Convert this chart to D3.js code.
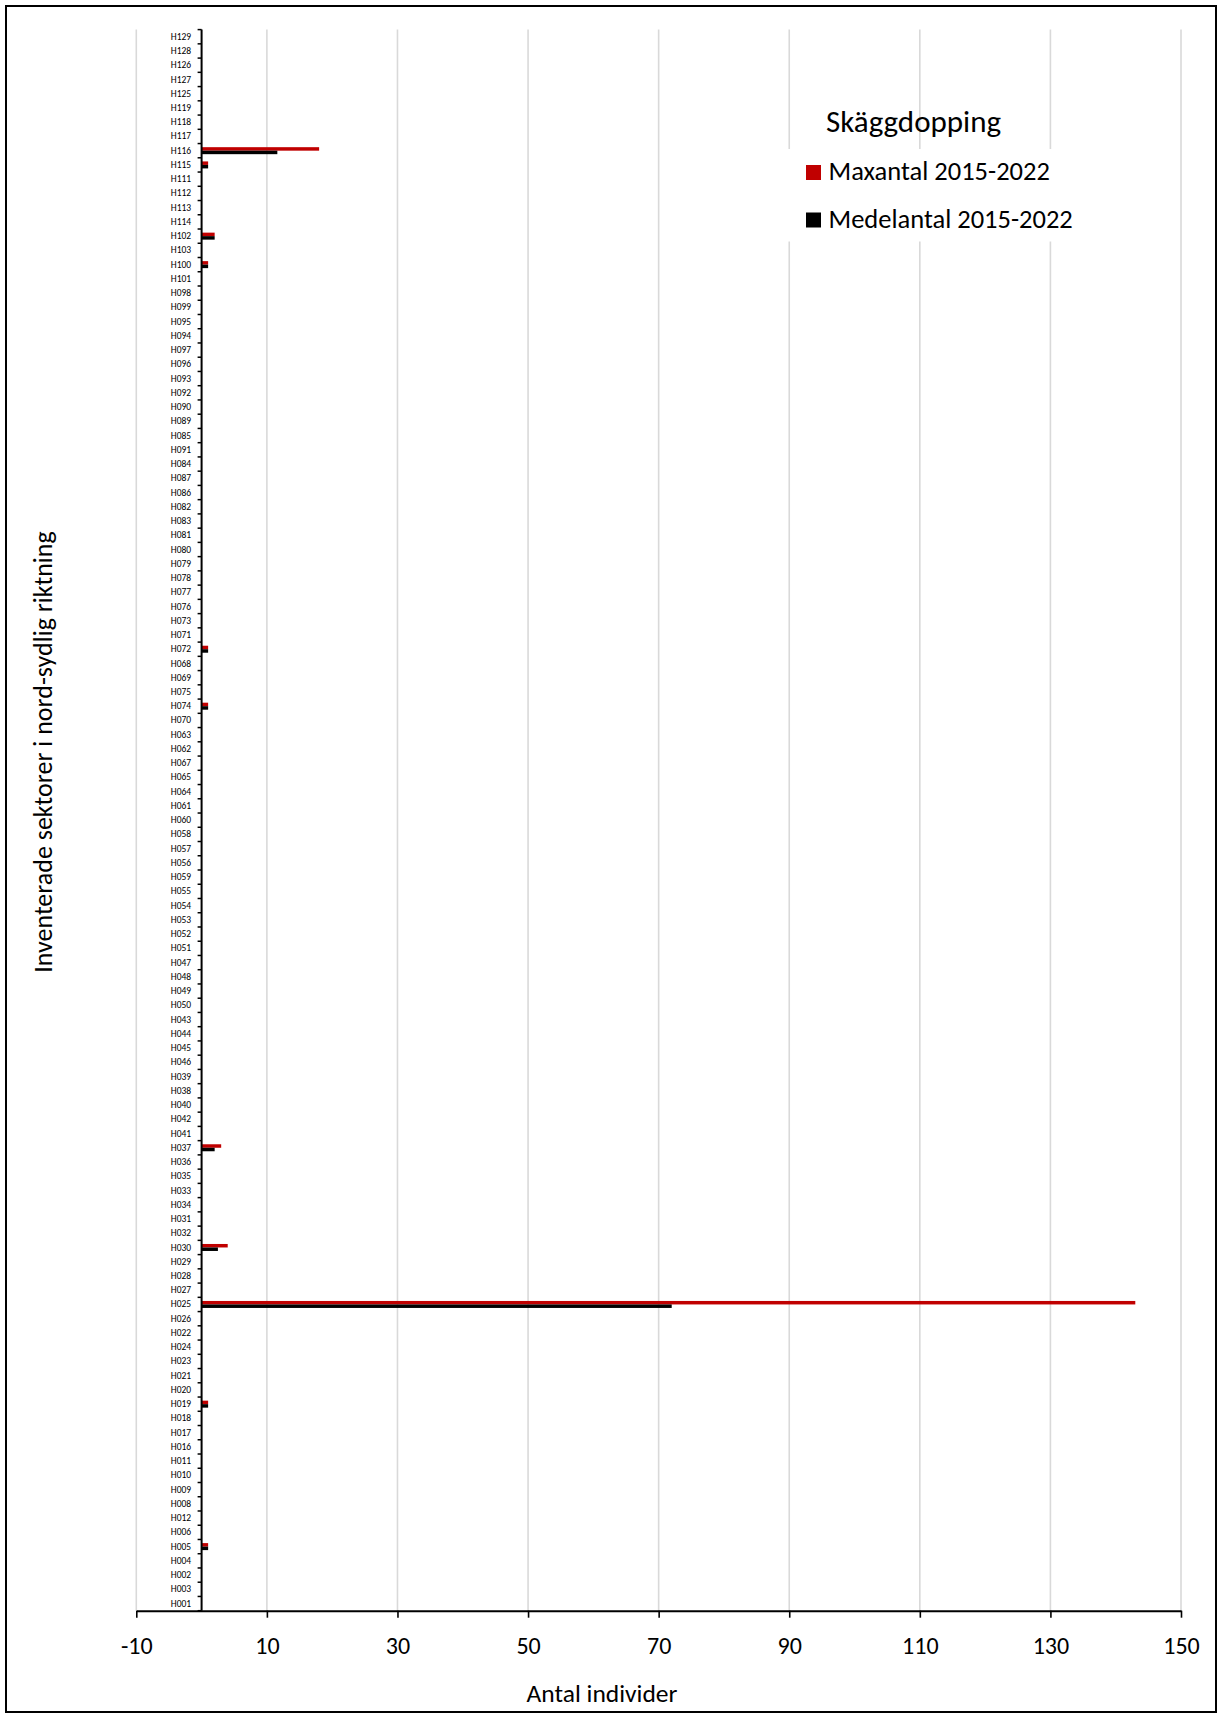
<!DOCTYPE html>
<html>
<head>
<meta charset="utf-8">
<script src="https://cdn.jsdelivr.net/npm/d3@7"></script>
<style>
  html, body { margin: 0; padding: 0; background: #fff; }
  svg { display: block; }
  text { font-family: Calibri, Carlito, Lato, sans-serif; fill: #000; }
</style>
</head>
<body>
<svg id="chart" width="1224" height="1715"></svg>
<script>
// Categories, top to bottom as in the chart
const categories = ["H129","H128","H126","H127","H125","H119","H118","H117","H116","H115","H111","H112","H113","H114","H102","H103","H100","H101","H098","H099","H095","H094","H097","H096","H093","H092","H090","H089","H085","H091","H084","H087","H086","H082","H083","H081","H080","H079","H078","H077","H076","H073","H071","H072","H068","H069","H075","H074","H070","H063","H062","H067","H065","H064","H061","H060","H058","H057","H056","H059","H055","H054","H053","H052","H051","H047","H048","H049","H050","H043","H044","H045","H046","H039","H038","H040","H042","H041","H037","H036","H035","H033","H034","H031","H032","H030","H029","H028","H027","H025","H026","H022","H024","H023","H021","H020","H019","H018","H017","H016","H011","H010","H009","H008","H012","H006","H005","H004","H002","H003","H001"];

// Non-zero values (all other sectors are 0)
const maxCats   = ["H116","H115","H102","H100","H072","H074","H037","H030","H025","H019","H005"];
const maxValues = [18, 1, 2, 1, 1, 1, 3, 4, 143, 1, 1];
const meanCats   = ["H116","H115","H102","H100","H072","H074","H037","H030","H025","H019","H005"];
const meanValues = [11.6, 1, 2, 1, 1, 1, 2, 2.5, 72, 1, 1];

const xTicks = [-10, 10, 30, 50, 70, 90, 110, 130, 150];
const seriesNames = ["Maxantal 2015-2022", "Medelantal 2015-2022"];
const seriesColors = ["#C00000", "#000000"];
const legendTitle = "Skäggdopping";
const xTitle = "Antal individer";
const yTitle = "Inventerade sektorer i nord-sydlig riktning";

const svg = d3.select("#chart");

// Outer frame
svg.append("rect").attr("x", 6).attr("y", 6).attr("width", 1210).attr("height", 1706)
  .attr("fill", "none").attr("stroke", "#000").attr("stroke-width", 2);

const x = d3.scaleLinear().domain([-10, 150]).range([136.3, 1181]);
const y = d3.scaleBand().domain(categories).range([29.6, 1610.7]).padding(0);

// Gridlines
svg.append("g").selectAll("line").data(xTicks).join("line")
  .attr("x1", d => x(d)).attr("x2", d => x(d))
  .attr("y1", 29.6).attr("y2", 1610.7)
  .attr("stroke", "#D9D9D9").attr("stroke-width", 1.6);

// Legend background (interrupts gridlines)
svg.append("rect").attr("x", 783).attr("y", 149).attr("width", 310).attr("height", 92.5)
  .attr("fill", "#fff");

// Bars
const maxMap = new Map(maxCats.map((c, i) => [c, maxValues[i]]));
const meanMap = new Map(meanCats.map((c, i) => [c, meanValues[i]]));
const barH = 3.5;
const rows = categories.map(c => ({ c, max: maxMap.get(c) || 0, mean: meanMap.get(c) || 0 }));

svg.append("g").selectAll("rect").data(rows.filter(d => d.max > 0)).join("rect")
  .attr("x", x(0)).attr("y", d => y(d.c) + y.bandwidth() / 2 - barH)
  .attr("width", d => x(d.max) - x(0)).attr("height", barH)
  .attr("fill", seriesColors[0]);
svg.append("g").selectAll("rect").data(rows.filter(d => d.mean > 0)).join("rect")
  .attr("x", x(0)).attr("y", d => y(d.c) + y.bandwidth() / 2)
  .attr("width", d => x(d.mean) - x(0)).attr("height", barH)
  .attr("fill", seriesColors[1]);

// Y axis: labels
const yAxis = svg.append("g").attr("transform", `translate(${x(0)},0)`)
  .call(d3.axisLeft(y).tickSize(0).tickPadding(10.5));
yAxis.select(".domain").remove();
yAxis.selectAll("text").style("font-size", "9.5px").attr("fill", "#000");

// Y axis boundary ticks
const bounds = categories.map(c => y(c)).concat([y.range()[1]]);
svg.append("g").selectAll("line").data(bounds).join("line")
  .attr("x1", x(0) - 4).attr("x2", x(0)).attr("y1", d => d).attr("y2", d => d)
  .attr("stroke", "#000").attr("stroke-width", 1.5);
svg.append("line").attr("x1", x(0)).attr("x2", x(0)).attr("y1", 29.6).attr("y2", 1610.7)
  .attr("stroke", "#000").attr("stroke-width", 2);

// X axis
const xAxis = svg.append("g").attr("transform", "translate(0,1610.7)")
  .call(d3.axisBottom(x).tickValues(xTicks).tickFormat(d => String(d))
    .tickSize(7).tickPadding(19).tickSizeOuter(0));
xAxis.select(".domain").attr("stroke", "#000").attr("stroke-width", 2);
xAxis.selectAll(".tick line").attr("stroke", "#000").attr("stroke-width", 1.6);
xAxis.selectAll("text").style("font-size", "24px").attr("fill", "#000");

// Axis titles
svg.append("text").attr("x", 602).attr("y", 1702).attr("text-anchor", "middle")
  .style("font-size", "25.5px").text(xTitle);
svg.append("text").attr("transform", "translate(52,752) rotate(-90)").attr("text-anchor", "middle")
  .style("font-size", "26px").text(yTitle);

// Legend
svg.append("text").attr("x", 826).attr("y", 131.5).style("font-size", "31px").text(legendTitle);
const lg = svg.append("g").selectAll("g").data(seriesNames).join("g")
  .attr("transform", (d, i) => `translate(806,${165 + i * 47.5})`);
lg.append("rect").attr("width", 15).attr("height", 15).attr("fill", (d, i) => seriesColors[i]);
lg.append("text").attr("x", 22.5).attr("y", 15).style("font-size", "26.5px").text(d => d);
</script>
</body>
</html>
